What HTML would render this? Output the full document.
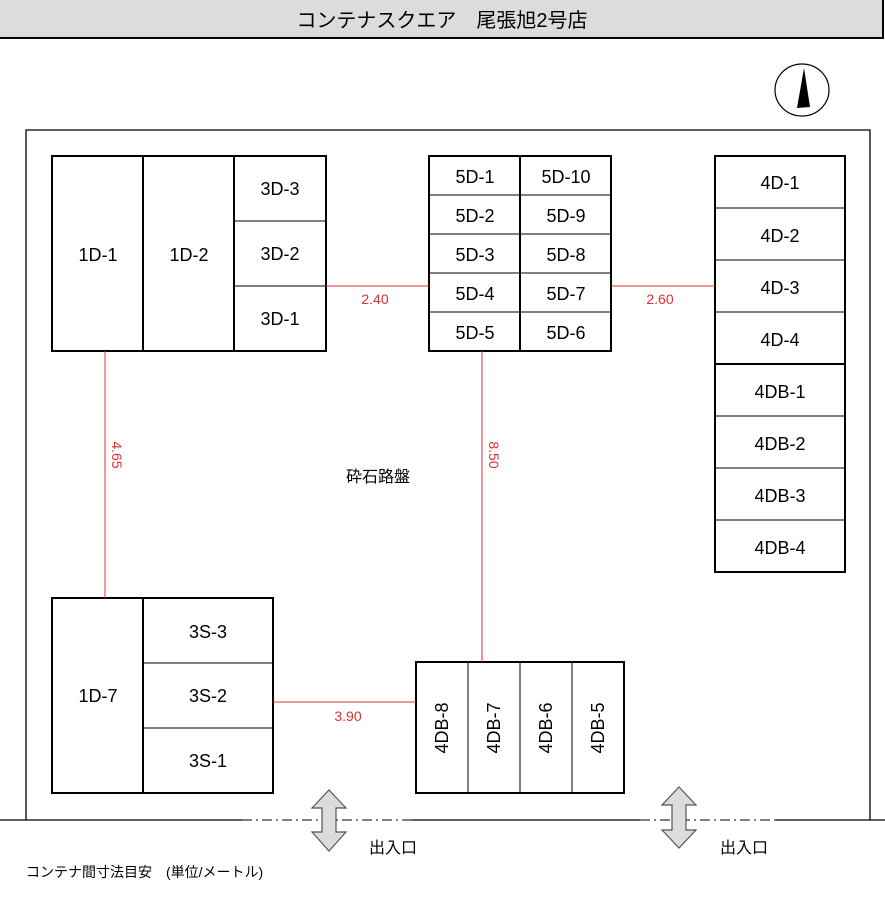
<!DOCTYPE html>
<html><head><meta charset="utf-8"><style>body{margin:0;background:#fff}svg{display:block}</style></head><body>
<svg width="885" height="898" xmlns="http://www.w3.org/2000/svg" font-family="'Liberation Sans','Noto Sans CJK JP',sans-serif">
<rect x="0" y="0" width="883" height="38" fill="#dcdcdc"/>
<line x1="0" y1="38" x2="884" y2="38" stroke="#000" stroke-width="2"/>
<line x1="883" y1="0" x2="883" y2="39" stroke="#000" stroke-width="2"/>
<text x="442" y="27" font-size="20" text-anchor="middle">コンテナスクエア　尾張旭2号店</text>
<ellipse cx="802" cy="90" rx="27" ry="26" fill="#fff" stroke="#000" stroke-width="1.2"/>
<polygon points="804,68 797,108 810,107" fill="#000"/>
<g fill="none" stroke="#000" stroke-width="1.3">
<polyline points="26,820 26,130 870,130 870,820"/>
<line x1="0" y1="820" x2="242" y2="820"/><line x1="412" y1="820" x2="640" y2="820"/><line x1="776" y1="820" x2="885" y2="820"/>
<line x1="242" y1="820" x2="412" y2="820" stroke-dasharray="10,4,2,4" stroke-width="1"/>
<line x1="640" y1="820" x2="776" y2="820" stroke-dasharray="10,4,2,4" stroke-width="1"/>
</g>
<g fill="none" stroke="#000" stroke-width="2">
<rect x="52" y="156" width="274" height="195"/>
<line x1="143" y1="156" x2="143" y2="351"/><line x1="234" y1="156" x2="234" y2="351"/>
<line x1="234" y1="221" x2="326" y2="221" stroke-width="1"/><line x1="234" y1="286" x2="326" y2="286" stroke-width="1"/>
<rect x="429" y="156" width="182" height="195"/>
<line x1="520" y1="156" x2="520" y2="351"/>
<g stroke-width="1"><line x1="429" y1="195" x2="611" y2="195"/><line x1="429" y1="234" x2="611" y2="234"/><line x1="429" y1="273" x2="611" y2="273"/><line x1="429" y1="312" x2="611" y2="312"/></g>
<rect x="715" y="156" width="130" height="416"/>
<g stroke-width="1"><line x1="715" y1="208" x2="845" y2="208"/><line x1="715" y1="260" x2="845" y2="260"/><line x1="715" y1="312" x2="845" y2="312"/><line x1="715" y1="416" x2="845" y2="416"/><line x1="715" y1="468" x2="845" y2="468"/><line x1="715" y1="520" x2="845" y2="520"/></g>
<line x1="715" y1="364" x2="845" y2="364"/>
<rect x="52" y="598" width="221" height="195"/>
<line x1="143" y1="598" x2="143" y2="793"/>
<line x1="143" y1="663" x2="273" y2="663" stroke-width="1"/><line x1="143" y1="728" x2="273" y2="728" stroke-width="1"/>
<rect x="416" y="662" width="208" height="131"/>
<g stroke-width="1"><line x1="468" y1="662" x2="468" y2="793"/><line x1="520" y1="662" x2="520" y2="793"/><line x1="572" y1="662" x2="572" y2="793"/></g>
</g>
<g stroke="#e03030" stroke-width="1">
<line x1="326" y1="286" x2="429" y2="286"/><line x1="611" y1="286" x2="715" y2="286"/>
<line x1="105" y1="351" x2="105" y2="598"/><line x1="482" y1="351" x2="482" y2="662"/>
<line x1="273" y1="702" x2="416" y2="702"/>
</g>
<g fill="#e03030" font-size="14" text-anchor="middle">
<text x="375" y="304">2.40</text><text x="660" y="304">2.60</text><text x="348" y="721">3.90</text>
<text transform="translate(112,455) rotate(90)">4.65</text>
<text transform="translate(489,455) rotate(90)">8.50</text>
</g>
<g font-size="18" text-anchor="middle" fill="#000">
<text x="98" y="261">1D-1</text><text x="189" y="261">1D-2</text>
<text x="280" y="195">3D-3</text><text x="280" y="260">3D-2</text><text x="280" y="325">3D-1</text>
<text x="475" y="183">5D-1</text><text x="566" y="183">5D-10</text>
<text x="475" y="222">5D-2</text><text x="566" y="222">5D-9</text>
<text x="475" y="261">5D-3</text><text x="566" y="261">5D-8</text>
<text x="475" y="300">5D-4</text><text x="566" y="300">5D-7</text>
<text x="475" y="339">5D-5</text><text x="566" y="339">5D-6</text>
<text x="780" y="189">4D-1</text><text x="780" y="242">4D-2</text><text x="780" y="294">4D-3</text><text x="780" y="346">4D-4</text>
<text x="780" y="398">4DB-1</text><text x="780" y="450">4DB-2</text><text x="780" y="502">4DB-3</text><text x="780" y="554">4DB-4</text>
<text x="98" y="702">1D-7</text>
<text x="208" y="638">3S-3</text><text x="208" y="702">3S-2</text><text x="208" y="767">3S-1</text>
<g transform="translate(448,728) rotate(-90)"><text x="0" y="0">4DB-8</text></g>
<g transform="translate(500,728) rotate(-90)"><text x="0" y="0">4DB-7</text></g>
<g transform="translate(552,728) rotate(-90)"><text x="0" y="0">4DB-6</text></g>
<g transform="translate(604,728) rotate(-90)"><text x="0" y="0">4DB-5</text></g>
</g>
<text x="378" y="482" font-size="16" text-anchor="middle">砕石路盤</text>
<g fill="#dcdcdc" stroke="#555" stroke-width="1.2">
<polygon points="329,790 346,808 336,808 336,832 346,832 329,851 312,832 322,832 322,808 312,808"/>
<polygon points="679,787 696,805 686,805 686,830 696,830 679,848 662,830 672,830 672,805 662,805"/>
</g>
<g font-size="16"><text x="369" y="853">出入口</text><text x="720" y="853">出入口</text></g>
<text x="26" y="877" font-size="14">コンテナ間寸法目安　(単位/メートル)</text>
</svg>
</body></html>
